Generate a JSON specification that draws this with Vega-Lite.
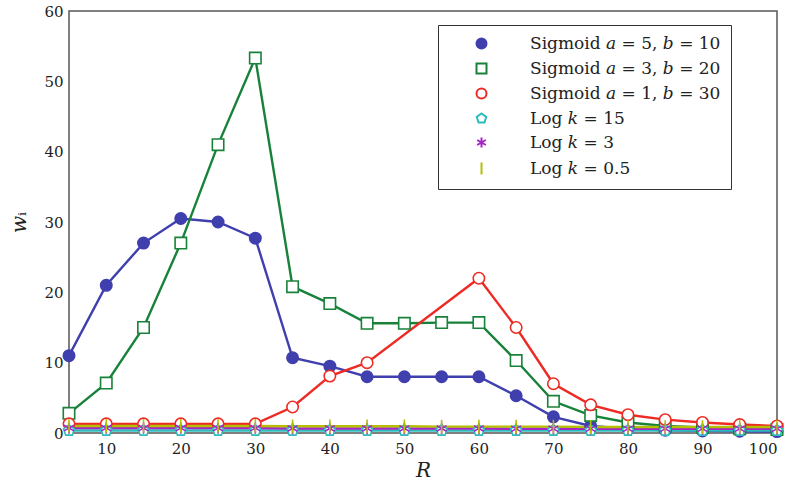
{
  "$schema": "https://vega.github.io/schema/vega-lite/v6.json",
  "width": 708,
  "height": 422,
  "autosize": {"type": "none"},
  "padding": {"left": 69, "top": 11, "right": 18, "bottom": 54},
  "background": "white",
  "config": {
    "view": {"stroke": "#555555", "strokeWidth": 1.5},
    "font": "DejaVu Serif",
    "axis": {"grid": false, "domain": false, "labelFont": "DejaVu Serif", "labelFontSize": 15, "labelColor": "#222222", "tickColor": "#555555", "titleFont": "DejaVu Serif", "titleColor": "#222222", "titleFontWeight": "normal"},
    "legend": {"orient": "none", "legendX": 369, "legendY": 14, "direction": "vertical", "fillColor": "white", "strokeColor": "#333333", "padding": 10, "labelFont": "DejaVu Serif", "labelFontSize": 17, "labelColor": "#222222", "labelLimit": 400, "symbolSize": 100, "symbolStrokeWidth": 2, "symbolOffset": 25, "labelOffset": 40, "rowPadding": 6, "offset": 0}
  },
  "data": {"values": [
    {"series": "Sigmoid 𝑎 = 5, 𝑏 = 10", "R": 5, "w": 11},
    {"series": "Sigmoid 𝑎 = 5, 𝑏 = 10", "R": 10, "w": 21},
    {"series": "Sigmoid 𝑎 = 5, 𝑏 = 10", "R": 15, "w": 27},
    {"series": "Sigmoid 𝑎 = 5, 𝑏 = 10", "R": 20, "w": 30.5},
    {"series": "Sigmoid 𝑎 = 5, 𝑏 = 10", "R": 25, "w": 30},
    {"series": "Sigmoid 𝑎 = 5, 𝑏 = 10", "R": 30, "w": 27.7},
    {"series": "Sigmoid 𝑎 = 5, 𝑏 = 10", "R": 35, "w": 10.7},
    {"series": "Sigmoid 𝑎 = 5, 𝑏 = 10", "R": 40, "w": 9.5},
    {"series": "Sigmoid 𝑎 = 5, 𝑏 = 10", "R": 45, "w": 8},
    {"series": "Sigmoid 𝑎 = 5, 𝑏 = 10", "R": 50, "w": 8},
    {"series": "Sigmoid 𝑎 = 5, 𝑏 = 10", "R": 55, "w": 8},
    {"series": "Sigmoid 𝑎 = 5, 𝑏 = 10", "R": 60, "w": 8},
    {"series": "Sigmoid 𝑎 = 5, 𝑏 = 10", "R": 65, "w": 5.3},
    {"series": "Sigmoid 𝑎 = 5, 𝑏 = 10", "R": 70, "w": 2.3},
    {"series": "Sigmoid 𝑎 = 5, 𝑏 = 10", "R": 75, "w": 1.0},
    {"series": "Sigmoid 𝑎 = 5, 𝑏 = 10", "R": 80, "w": 0.6},
    {"series": "Sigmoid 𝑎 = 5, 𝑏 = 10", "R": 85, "w": 0.4},
    {"series": "Sigmoid 𝑎 = 5, 𝑏 = 10", "R": 90, "w": 0.3},
    {"series": "Sigmoid 𝑎 = 5, 𝑏 = 10", "R": 95, "w": 0.25},
    {"series": "Sigmoid 𝑎 = 5, 𝑏 = 10", "R": 100, "w": 0.2},
    {"series": "Sigmoid 𝑎 = 3, 𝑏 = 20", "R": 5, "w": 2.8},
    {"series": "Sigmoid 𝑎 = 3, 𝑏 = 20", "R": 10, "w": 7.1},
    {"series": "Sigmoid 𝑎 = 3, 𝑏 = 20", "R": 15, "w": 15},
    {"series": "Sigmoid 𝑎 = 3, 𝑏 = 20", "R": 20, "w": 27},
    {"series": "Sigmoid 𝑎 = 3, 𝑏 = 20", "R": 25, "w": 41},
    {"series": "Sigmoid 𝑎 = 3, 𝑏 = 20", "R": 30, "w": 53.3},
    {"series": "Sigmoid 𝑎 = 3, 𝑏 = 20", "R": 35, "w": 20.8},
    {"series": "Sigmoid 𝑎 = 3, 𝑏 = 20", "R": 40, "w": 18.4},
    {"series": "Sigmoid 𝑎 = 3, 𝑏 = 20", "R": 45, "w": 15.6},
    {"series": "Sigmoid 𝑎 = 3, 𝑏 = 20", "R": 50, "w": 15.6},
    {"series": "Sigmoid 𝑎 = 3, 𝑏 = 20", "R": 55, "w": 15.7},
    {"series": "Sigmoid 𝑎 = 3, 𝑏 = 20", "R": 60, "w": 15.7},
    {"series": "Sigmoid 𝑎 = 3, 𝑏 = 20", "R": 65, "w": 10.3},
    {"series": "Sigmoid 𝑎 = 3, 𝑏 = 20", "R": 70, "w": 4.5},
    {"series": "Sigmoid 𝑎 = 3, 𝑏 = 20", "R": 75, "w": 2.5},
    {"series": "Sigmoid 𝑎 = 3, 𝑏 = 20", "R": 80, "w": 1.5},
    {"series": "Sigmoid 𝑎 = 3, 𝑏 = 20", "R": 85, "w": 1.0},
    {"series": "Sigmoid 𝑎 = 3, 𝑏 = 20", "R": 90, "w": 0.8},
    {"series": "Sigmoid 𝑎 = 3, 𝑏 = 20", "R": 95, "w": 0.6},
    {"series": "Sigmoid 𝑎 = 3, 𝑏 = 20", "R": 100, "w": 0.5},
    {"series": "Sigmoid 𝑎 = 1, 𝑏 = 30", "R": 5, "w": 1.3},
    {"series": "Sigmoid 𝑎 = 1, 𝑏 = 30", "R": 10, "w": 1.3},
    {"series": "Sigmoid 𝑎 = 1, 𝑏 = 30", "R": 15, "w": 1.3},
    {"series": "Sigmoid 𝑎 = 1, 𝑏 = 30", "R": 20, "w": 1.3},
    {"series": "Sigmoid 𝑎 = 1, 𝑏 = 30", "R": 25, "w": 1.3},
    {"series": "Sigmoid 𝑎 = 1, 𝑏 = 30", "R": 30, "w": 1.3},
    {"series": "Sigmoid 𝑎 = 1, 𝑏 = 30", "R": 35, "w": 3.7},
    {"series": "Sigmoid 𝑎 = 1, 𝑏 = 30", "R": 40, "w": 8.1},
    {"series": "Sigmoid 𝑎 = 1, 𝑏 = 30", "R": 45, "w": 10},
    {"series": "Sigmoid 𝑎 = 1, 𝑏 = 30", "R": 60, "w": 22},
    {"series": "Sigmoid 𝑎 = 1, 𝑏 = 30", "R": 65, "w": 15},
    {"series": "Sigmoid 𝑎 = 1, 𝑏 = 30", "R": 70, "w": 7},
    {"series": "Sigmoid 𝑎 = 1, 𝑏 = 30", "R": 75, "w": 4},
    {"series": "Sigmoid 𝑎 = 1, 𝑏 = 30", "R": 80, "w": 2.6},
    {"series": "Sigmoid 𝑎 = 1, 𝑏 = 30", "R": 85, "w": 1.9},
    {"series": "Sigmoid 𝑎 = 1, 𝑏 = 30", "R": 90, "w": 1.5},
    {"series": "Sigmoid 𝑎 = 1, 𝑏 = 30", "R": 95, "w": 1.2},
    {"series": "Sigmoid 𝑎 = 1, 𝑏 = 30", "R": 100, "w": 1.0},
    {"series": "Log 𝑘 = 15", "R": 5, "w": 0.35},
    {"series": "Log 𝑘 = 15", "R": 10, "w": 0.35},
    {"series": "Log 𝑘 = 15", "R": 15, "w": 0.35},
    {"series": "Log 𝑘 = 15", "R": 20, "w": 0.35},
    {"series": "Log 𝑘 = 15", "R": 25, "w": 0.35},
    {"series": "Log 𝑘 = 15", "R": 30, "w": 0.35},
    {"series": "Log 𝑘 = 15", "R": 35, "w": 0.35},
    {"series": "Log 𝑘 = 15", "R": 40, "w": 0.35},
    {"series": "Log 𝑘 = 15", "R": 45, "w": 0.35},
    {"series": "Log 𝑘 = 15", "R": 50, "w": 0.35},
    {"series": "Log 𝑘 = 15", "R": 55, "w": 0.35},
    {"series": "Log 𝑘 = 15", "R": 60, "w": 0.35},
    {"series": "Log 𝑘 = 15", "R": 65, "w": 0.35},
    {"series": "Log 𝑘 = 15", "R": 70, "w": 0.35},
    {"series": "Log 𝑘 = 15", "R": 75, "w": 0.35},
    {"series": "Log 𝑘 = 15", "R": 80, "w": 0.35},
    {"series": "Log 𝑘 = 15", "R": 85, "w": 0.35},
    {"series": "Log 𝑘 = 15", "R": 90, "w": 0.35},
    {"series": "Log 𝑘 = 15", "R": 95, "w": 0.35},
    {"series": "Log 𝑘 = 15", "R": 100, "w": 0.35},
    {"series": "Log 𝑘 = 3", "R": 5, "w": 0.7},
    {"series": "Log 𝑘 = 3", "R": 10, "w": 0.7},
    {"series": "Log 𝑘 = 3", "R": 15, "w": 0.7},
    {"series": "Log 𝑘 = 3", "R": 20, "w": 0.7},
    {"series": "Log 𝑘 = 3", "R": 25, "w": 0.7},
    {"series": "Log 𝑘 = 3", "R": 30, "w": 0.7},
    {"series": "Log 𝑘 = 3", "R": 35, "w": 0.65},
    {"series": "Log 𝑘 = 3", "R": 40, "w": 0.65},
    {"series": "Log 𝑘 = 3", "R": 45, "w": 0.65},
    {"series": "Log 𝑘 = 3", "R": 50, "w": 0.65},
    {"series": "Log 𝑘 = 3", "R": 55, "w": 0.65},
    {"series": "Log 𝑘 = 3", "R": 60, "w": 0.65},
    {"series": "Log 𝑘 = 3", "R": 65, "w": 0.6},
    {"series": "Log 𝑘 = 3", "R": 70, "w": 0.6},
    {"series": "Log 𝑘 = 3", "R": 75, "w": 0.6},
    {"series": "Log 𝑘 = 3", "R": 80, "w": 0.6},
    {"series": "Log 𝑘 = 3", "R": 85, "w": 0.6},
    {"series": "Log 𝑘 = 3", "R": 90, "w": 0.6},
    {"series": "Log 𝑘 = 3", "R": 95, "w": 0.6},
    {"series": "Log 𝑘 = 3", "R": 100, "w": 0.6},
    {"series": "Log 𝑘 = 0.5", "R": 5, "w": 1.0},
    {"series": "Log 𝑘 = 0.5", "R": 10, "w": 1.0},
    {"series": "Log 𝑘 = 0.5", "R": 15, "w": 1.0},
    {"series": "Log 𝑘 = 0.5", "R": 20, "w": 1.0},
    {"series": "Log 𝑘 = 0.5", "R": 25, "w": 1.0},
    {"series": "Log 𝑘 = 0.5", "R": 30, "w": 1.0},
    {"series": "Log 𝑘 = 0.5", "R": 35, "w": 0.95},
    {"series": "Log 𝑘 = 0.5", "R": 40, "w": 0.95},
    {"series": "Log 𝑘 = 0.5", "R": 45, "w": 0.95},
    {"series": "Log 𝑘 = 0.5", "R": 50, "w": 0.95},
    {"series": "Log 𝑘 = 0.5", "R": 55, "w": 0.9},
    {"series": "Log 𝑘 = 0.5", "R": 60, "w": 0.9},
    {"series": "Log 𝑘 = 0.5", "R": 65, "w": 0.9},
    {"series": "Log 𝑘 = 0.5", "R": 70, "w": 0.9},
    {"series": "Log 𝑘 = 0.5", "R": 75, "w": 0.85},
    {"series": "Log 𝑘 = 0.5", "R": 80, "w": 0.85},
    {"series": "Log 𝑘 = 0.5", "R": 85, "w": 0.85},
    {"series": "Log 𝑘 = 0.5", "R": 90, "w": 0.85},
    {"series": "Log 𝑘 = 0.5", "R": 95, "w": 0.85},
    {"series": "Log 𝑘 = 0.5", "R": 100, "w": 0.85}
  ]},
  "encoding": {
    "x": {"field": "R", "type": "quantitative", "scale": {"domain": [5, 100], "nice": false, "zero": false}, "axis": {"values": [10, 20, 30, 40, 50, 60, 70, 80, 90, 100], "title": "𝑅", "titleFontSize": 20, "titlePadding": 4, "labelPadding": 8, "ticks": false}},
    "y": {"field": "w", "type": "quantitative", "scale": {"domain": [0, 60], "nice": false}, "axis": {"values": [0, 10, 20, 30, 40, 50, 60], "title": "𝑤ᵢ", "titleFontSize": 20, "titleAngle": -90, "titlePadding": 14, "labelPadding": 6, "ticks": false}}
  },
  "layer": [
    {
      "mark": {"type": "line", "strokeWidth": 2.4},
      "encoding": {
        "stroke": {"field": "series", "type": "nominal",
          "scale": {"domain": ["Sigmoid 𝑎 = 5, 𝑏 = 10", "Sigmoid 𝑎 = 3, 𝑏 = 20", "Sigmoid 𝑎 = 1, 𝑏 = 30", "Log 𝑘 = 15", "Log 𝑘 = 3", "Log 𝑘 = 0.5"],
                    "range": ["#3f3fae", "#18813a", "#ee2a24", "#2cbcbc", "#a526c4", "#b5be00"]}}
      }
    },
    {
      "mark": {"type": "point", "filled": false, "strokeWidth": 1.6, "opacity": 1},
      "encoding": {
        "stroke": {"field": "series", "type": "nominal", "legend": {"title": null}},
        "fill": {"field": "series", "type": "nominal", "legend": {"title": null}, "scale": {"domain": ["Sigmoid 𝑎 = 5, 𝑏 = 10", "Sigmoid 𝑎 = 3, 𝑏 = 20", "Sigmoid 𝑎 = 1, 𝑏 = 30", "Log 𝑘 = 15", "Log 𝑘 = 3", "Log 𝑘 = 0.5"], "range": ["#3f3fae", "white", "white", "white", "white", "white"]}},
        "shape": {"field": "series", "type": "nominal", "legend": {"title": null}, "scale": {"domain": ["Sigmoid 𝑎 = 5, 𝑏 = 10", "Sigmoid 𝑎 = 3, 𝑏 = 20", "Sigmoid 𝑎 = 1, 𝑏 = 30", "Log 𝑘 = 15", "Log 𝑘 = 3", "Log 𝑘 = 0.5"], "range": ["circle", "square", "circle", "M0,-1L0.951,-0.309L0.588,0.809L-0.588,0.809L-0.951,-0.309Z", "M0,-1V1M-0.866,-0.5L0.866,0.5M-0.866,0.5L0.866,-0.5", "M0,-1.2V1.2"]}},
        "size": {"value": 130}
      }
    }
  ]
}
